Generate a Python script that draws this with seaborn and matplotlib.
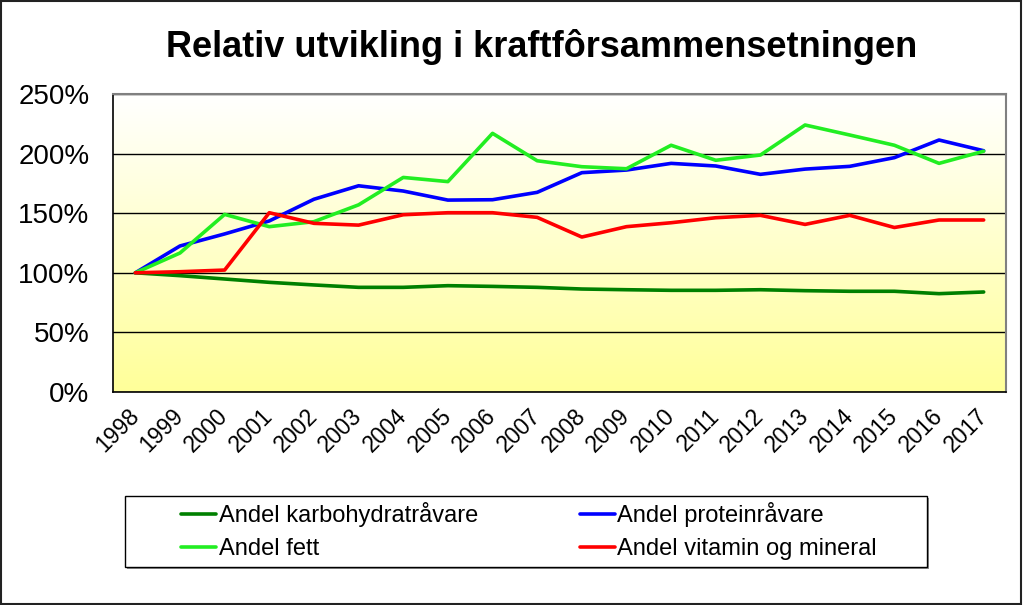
import numpy as np
import pandas as pd
import matplotlib
matplotlib.use("Agg")
import matplotlib.pyplot as plt
from matplotlib.patches import Rectangle
import seaborn as sns

years = [str(y) for y in range(1998, 2018)]
karbo = [100, 97.6, 94.8, 92.0, 89.8, 87.8, 87.8, 89.2, 88.6, 87.8,
         86.4, 85.8, 85.3, 85.3, 85.8, 85.0, 84.5, 84.5, 82.5, 83.9]
protein = [100, 122.5, 132.6, 143.5, 161.7, 173.0, 168.6, 161.0, 161.3, 167.5,
           184.0, 186.2, 191.8, 189.6, 182.6, 187.0, 189.3, 196.6, 211.4, 202.4]
fett = [100, 116.6, 149.0, 138.7, 142.9, 157.0, 180.0, 176.5, 217.0, 194.0,
        189.0, 187.3, 207.0, 194.4, 198.8, 224.0, 215.6, 207.0, 191.8, 202.0]
vitamin = [100, 100.9, 102.3, 150.4, 141.5, 140.0, 148.7, 150.4, 150.4, 146.5,
           130.0, 138.7, 142.0, 146.2, 148.2, 140.6, 148.2, 138.0, 144.3, 144.3]

series_names = ["Andel karbohydratråvare", "Andel proteinråvare",
                "Andel fett", "Andel vitamin og mineral"]
series_vals = [karbo, protein, fett, vitamin]
colors = ["#008000", "#0000FF", "#22EE22", "#FF0000"]
y_ticks = [0, 50, 100, 150, 200, 250]
y_ticklabels = ["0%", "50%", "100%", "150%", "200%", "250%"]
title = "Relativ utvikling i kraftfôrsammensetningen"

rows = []
for name, vals in zip(series_names, series_vals):
    for i, v in enumerate(vals):
        rows.append({"pos": i, "value": v, "series": name})
df = pd.DataFrame(rows)

sns.set_theme(style="white")
plt.rcParams["font.family"] = ["Liberation Sans", "DejaVu Sans"]
plt.rcParams["text.color"] = "black"
plt.rcParams["xtick.color"] = "black"
plt.rcParams["ytick.color"] = "black"
plt.rcParams["axes.labelcolor"] = "black"

W, H = 1023, 605
fig = plt.figure(figsize=(W / 100, H / 100), dpi=100)
ax = fig.add_axes([113 / W, 1 - 392 / H, (1006 - 113) / W, (392 - 94) / H])

# gradient background
grad = np.linspace(0, 1, 256).reshape(-1, 1)
top = np.array([1.0, 1.0, 1.0])
bot = np.array([1.0, 1.0, 0.60])
img = top[None, None, :] * (1 - grad[:, :, None]) + bot[None, None, :] * grad[:, :, None]
ax.imshow(img, extent=[0, 1, 0, 1], transform=ax.transAxes, aspect="auto",
          zorder=0, interpolation="bilinear")

sns.lineplot(data=df, x="pos", y="value", hue="series", hue_order=series_names,
             palette=colors, linewidth=2.6, ax=ax, legend=False, sort=False)

n = len(years)
ax.set_xlim(-0.5, n - 0.5)
ax.set_ylim(0, 250)
ax.set_yticks(y_ticks)
ax.set_yticklabels(y_ticklabels, fontsize=20)
ax.set_xticks(range(n))
ax.set_xticklabels(years, fontsize=16.5, rotation=45, ha="right", va="center",
                   rotation_mode="anchor")
ax.set_xticks(np.arange(-0.5, n, 1.0), minor=True)
ax.tick_params(axis="x", which="major", length=0, pad=15)
ax.tick_params(axis="x", which="minor", length=6, width=1, color="black", direction="out")
ax.tick_params(axis="y", which="major", length=6, width=1, color="black", direction="out", pad=11)
ax.set_xlabel("")
ax.set_ylabel("")

ax.set_axisbelow(True)
ax.yaxis.grid(True, color="black", linewidth=1.0)
ax.xaxis.grid(False)
for s in ["left", "bottom"]:
    ax.spines[s].set_color("black")
    ax.spines[s].set_linewidth(1.2)
for s in ["top", "right"]:
    ax.spines[s].set_color("#808080")
    ax.spines[s].set_linewidth(1.5)
ax.spines["bottom"].set_zorder(3)

fig.text(542 / W, 1 - 47 / H, title, ha="center", va="center",
         fontsize=26, fontweight="bold", color="black")

# legend
handles = ax.lines[:4]
order = [0, 2, 1, 3]
lx0, ly0, lx1, ly1 = 125, 496, 927, 567
fig.patches.append(Rectangle((lx0 / W + 2 / W, 1 - (ly1 + 2) / H), (lx1 - lx0) / W, (ly1 - ly0) / H,
                             transform=fig.transFigure, facecolor="#909090",
                             edgecolor="none", zorder=1))
fig.patches.append(Rectangle((lx0 / W, 1 - ly1 / H), (lx1 - lx0) / W, (ly1 - ly0) / H,
                             transform=fig.transFigure, facecolor="white",
                             edgecolor="black", linewidth=1, zorder=2))
leg = fig.legend([handles[i] for i in order], [series_names[i] for i in order],
                 loc="center", bbox_to_anchor=(529 / W, 1 - 531 / H), ncol=2,
                 frameon=False, fontsize=17, handlelength=1.5, handletextpad=0.1,
                 columnspacing=4.3, labelspacing=0.45)
leg.set_zorder(3)

# outer border
fig.patches.append(Rectangle((0.001, 0.001), 0.997, 0.997, transform=fig.transFigure,
                             facecolor="none", edgecolor="#222222", linewidth=1.5, zorder=5))

fig.savefig("out.png", dpi=100)
